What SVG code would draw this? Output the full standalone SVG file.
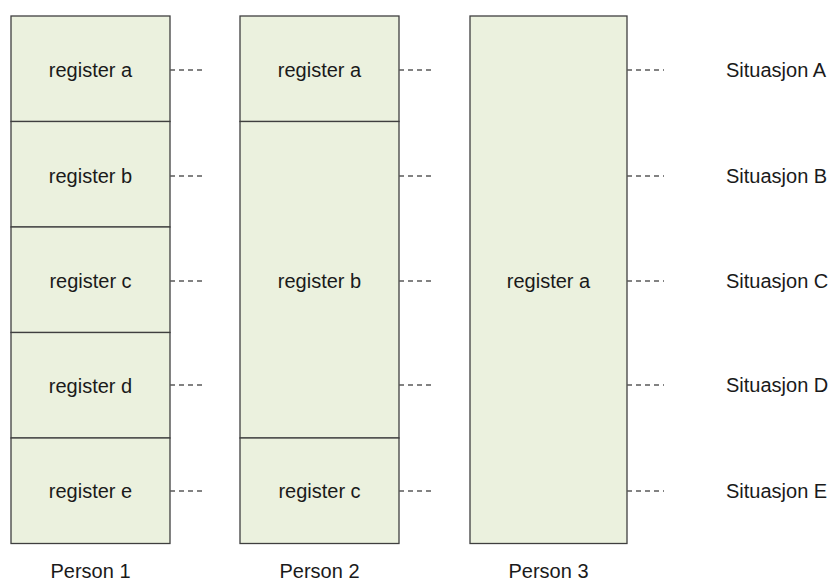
<svg xmlns="http://www.w3.org/2000/svg" width="829" height="581" viewBox="0 0 829 581">
<style>
.box{fill:#EBF1DE;stroke:#3F3F3F;stroke-width:1.3}
.t{font-family:"Liberation Sans",Arial,sans-serif;font-size:20px;fill:#1a1a1a;text-anchor:middle}
.s{font-family:"Liberation Sans",Arial,sans-serif;font-size:20px;fill:#1a1a1a;text-anchor:start}
.d{stroke:#595959;stroke-width:1.3;stroke-dasharray:5 4;fill:none}
</style>
<rect width="829" height="581" fill="#fff"/>
<g id="p1">
<g id="p1a"><rect class="box" x="11" y="16" width="159" height="105.5"/><text class="t" x="90.5" y="77">register a</text></g>
<g id="p1b"><rect class="box" x="11" y="121.5" width="159" height="105.5"/><text class="t" x="90.5" y="183">register b</text></g>
<g id="p1c"><rect class="box" x="11" y="227" width="159" height="105.5"/><text class="t" x="90.5" y="288">register c</text></g>
<g id="p1d"><rect class="box" x="11" y="332.5" width="159" height="105.5"/><text class="t" x="90.5" y="393">register d</text></g>
<g id="p1e"><rect class="box" x="11" y="438" width="159" height="105.5"/><text class="t" x="90.5" y="498">register e</text></g>
</g>
<g id="p2">
<g id="p2a"><rect class="box" x="240" y="16" width="159" height="105.5"/><text class="t" x="319.5" y="77">register a</text></g>
<g id="p2b"><rect class="box" x="240" y="121.5" width="159" height="316.5"/><text class="t" x="319.5" y="288">register b</text></g>
<g id="p2c"><rect class="box" x="240" y="438" width="159" height="105.5"/><text class="t" x="319.5" y="498">register c</text></g>
</g>
<g id="p3">
<g id="p3a"><rect class="box" x="470" y="16" width="157" height="527.5"/><text class="t" x="548.5" y="288">register a</text></g>
</g>
<g id="connectors">
<path class="d" d="M170 70H203M170 176H203M170 281H203M170 385H203M170 491H203"/>
<path class="d" d="M399 70H432M399 176H432M399 281H432M399 385H432M399 491H432"/>
<path class="d" d="M627 70H664M627 176H664M627 281H664M627 385H664M627 491H664"/>
</g>
<g id="situations">
<text class="s" x="726" y="77">Situasjon A</text>
<text class="s" x="726" y="183">Situasjon B</text>
<text class="s" x="726" y="288">Situasjon C</text>
<text class="s" x="726" y="392">Situasjon D</text>
<text class="s" x="726" y="498">Situasjon E</text>
</g>
<g id="persons">
<text class="t" x="90.5" y="578">Person 1</text>
<text class="t" x="319.5" y="578">Person 2</text>
<text class="t" x="548.5" y="578">Person 3</text>
</g>
</svg>
